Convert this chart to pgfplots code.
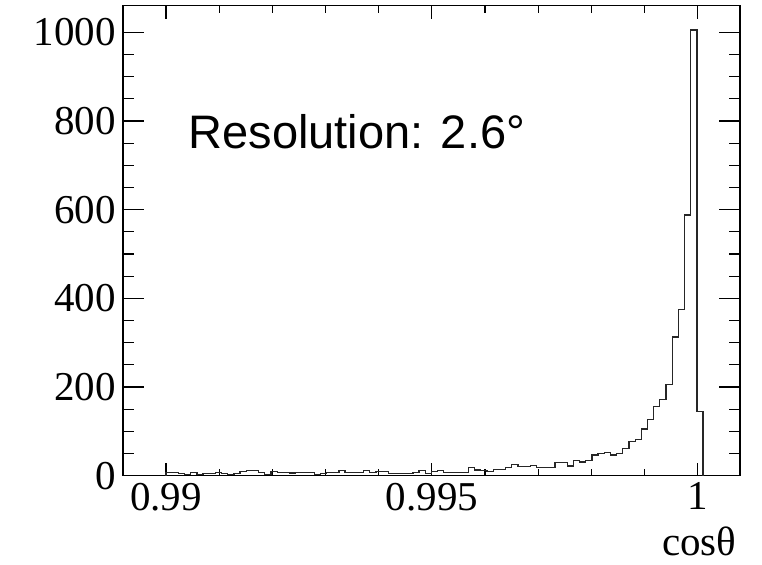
\documentclass[border=0pt]{standalone}
\usepackage{fontspec}
\setmainfont{Liberation Serif}
\newfontfamily\arialfont{Liberation Sans}
\usepackage{pgfplots}
\pgfplotsset{compat=1.18}
\begin{document}
\begin{tikzpicture}
\pgfplotsset{
  common/.style={
    width=308.5pt, height=235pt, scale only axis,
    xmin=0.98919, xmax=1.000795, ymin=0, ymax=1060,
    axis line style={line width=0.6pt, black},
    every tick/.style={black, line width=0.6pt},
    tick align=inside,
    /pgf/number format/assume math mode=true,
    /pgf/number format/1000 sep={},
    tick label style={font=\fontsize{20.5}{24}\selectfont},
    scaled x ticks=false, scaled y ticks=false,
  }
}
\begin{axis}[common,
  xtick={0.99,0.995,1}, xticklabels={0.99,0.995,1},
  minor x tick num=4,
  ytick=\empty,
  major tick length=6.6pt, minor tick length=3.5pt,
  xlabel={cosθ},
  xlabel style={at={(axis description cs:1,0)}, anchor=base east, yshift=-39.65pt, xshift=-1.6pt, font=\fontsize{20.5}{24}\selectfont, inner sep=0pt},
]
\addplot[const plot, line width=0.65pt, black!85] coordinates {
(0.9900000,0) (0.9900000,8) (0.9901161,7) (0.9902322,5) (0.9903483,3) (0.9904644,8) (0.9905805,3) (0.9906966,5) (0.9908126,5) (0.9909287,8) (0.9910448,5) (0.9911609,3) (0.9912770,5) (0.9913931,9) (0.9915092,11) (0.9916253,11) (0.9917414,8) (0.9918575,3) (0.9919736,9) (0.9920897,8) (0.9922057,8) (0.9923218,6) (0.9924379,8) (0.9925540,8) (0.9926701,8) (0.9927862,2) (0.9929023,5) (0.9930184,8) (0.9931345,8) (0.9932506,11) (0.9933667,8) (0.9934828,8) (0.9935989,8) (0.9937149,11) (0.9938310,8) (0.9939471,9) (0.9940632,9) (0.9941793,5) (0.9942954,5) (0.9944115,5) (0.9945276,5) (0.9946437,8) (0.9947598,11) (0.9948759,5) (0.9949920,9) (0.9951080,11) (0.9952241,8) (0.9953402,8) (0.9954563,8) (0.9955724,8) (0.9956885,19) (0.9958046,13) (0.9959207,11) (0.9960368,9) (0.9961529,14) (0.9962690,14) (0.9963851,19) (0.9965012,25) (0.9966172,20) (0.9967333,20) (0.9968494,23) (0.9969655,19) (0.9970816,19) (0.9971977,19) (0.9973138,29) (0.9974299,29) (0.9975460,22) (0.9976621,35) (0.9977782,31) (0.9978943,34) (0.9980103,47) (0.9981264,50) (0.9982425,53) (0.9983586,47) (0.9984747,50) (0.9985908,62) (0.9987069,77) (0.9988230,82) (0.9989391,105) (0.9990552,126) (0.9991713,156) (0.9992874,172) (0.9994034,205) (0.9995195,313) (0.9996356,375) (0.9997517,588) (0.9998678,1005) (0.9999839,145) (1.0001000,0)
};
\node[anchor=base west, inner sep=0pt, font=\arialfont\fontsize{23.5}{28}\selectfont] at (axis cs:0.990414,739) {Resolution: 2.6°};
\end{axis}
\begin{axis}[common, hide x axis,
  ytick={0,200,400,600,800,1000},
  minor y tick num=3,
  major tick length=10.5pt, minor tick length=5.3pt,
]
\end{axis}
\path (-61.5pt,-44.15pt) rectangle (319.5pt,237.85pt);
\end{tikzpicture}
\end{document}
